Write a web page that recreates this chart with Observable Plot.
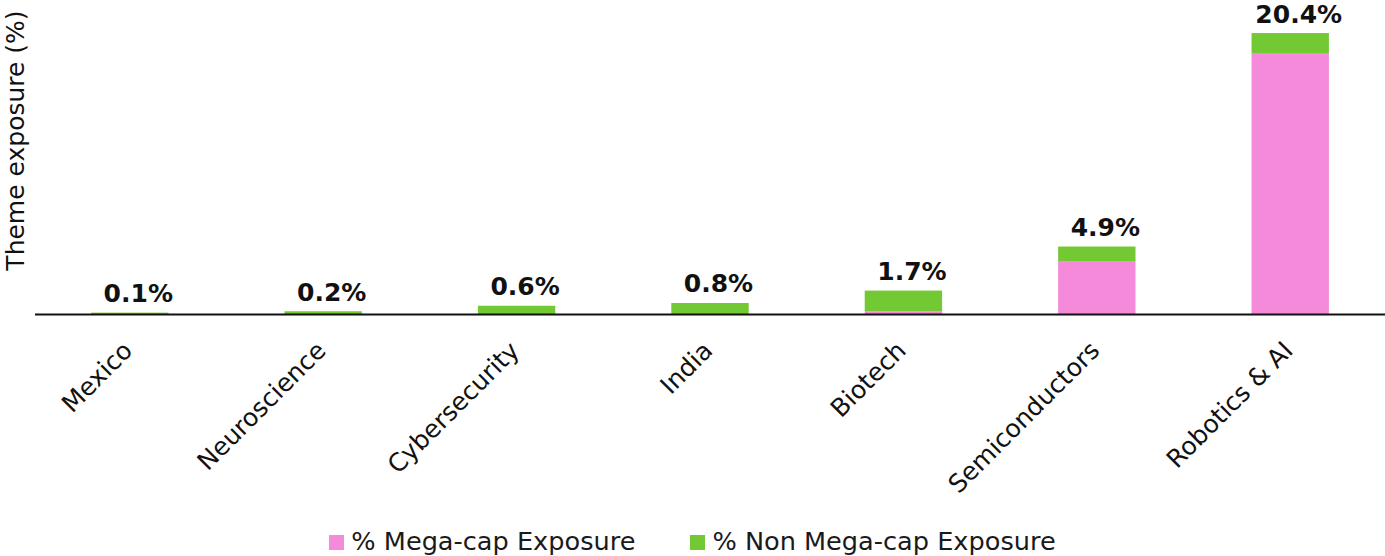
<!DOCTYPE html>
<html>
<head>
<meta charset="utf-8">
<script src="https://cdn.jsdelivr.net/npm/d3@7"></script>
<script src="https://cdn.jsdelivr.net/npm/@observablehq/plot@0.6"></script>
<style>
  body { margin: 0; background: #fff; font-family: "DejaVu Sans", sans-serif; }
  #legend { display: flex; justify-content: center; gap: 55px; font-size: 25.6px; line-height: 30px; color: #1a1a1a; margin-top: 21px; }
  #legend span.sw { display: inline-block; width: 15px; height: 15px; margin-right: 7px; vertical-align: middle; position: relative; top: -1px; }
</style>
</head>
<body>
<div id="chart"></div>
<div id="legend"></div>
<script>
const categories = ["Mexico", "Neuroscience", "Cybersecurity", "India", "Biotech", "Semiconductors", "Robotics & AI"];
const megaCap = [0.0, 0.0, 0.0, 0.0, 0.2, 3.8, 18.9];
const nonMegaCap = [0.1, 0.2, 0.6, 0.8, 1.5, 1.1, 1.5];
const totals = [0.1, 0.2, 0.6, 0.8, 1.7, 4.9, 20.4];
const seriesNames = ["% Mega-cap Exposure", "% Non Mega-cap Exposure"];
const seriesColors = ["#F58ADB", "#72C933"];

const rows = [];
categories.forEach((c, i) => {
  rows.push({cat: c, series: seriesNames[0], value: megaCap[i]});
  rows.push({cat: c, series: seriesNames[1], value: nonMegaCap[i]});
});
const totalRows = categories.map((c, i) => ({cat: c, total: totals[i]}));

const chart = Plot.plot({
  width: 1385,
  height: 505,
  marginTop: 0,
  marginLeft: 35,
  marginRight: 0,
  marginBottom: 191,
  style: {fontFamily: "'DejaVu Sans', sans-serif", fontSize: "25px", color: "#111", overflow: "visible"},
  x: {domain: categories, paddingInner: 0.6, paddingOuter: 0.29, round: false, label: null},
  y: {domain: [0, 22.8], axis: null},
  color: {domain: seriesNames, range: seriesColors},
  marks: [
    Plot.barY(rows, Plot.stackY({x: "cat", y: "value", fill: "series", order: seriesNames})),
    Plot.ruleY([0], {stroke: "#111", strokeWidth: 2}),
    Plot.text(totalRows, {x: "cat", y: "total", text: d => d.total.toFixed(1) + "%", dy: -19, dx: 8, fontWeight: "bold", fontSize: 25, fill: "#111"}),
    Plot.axisX({tickSize: 0, tickRotate: -45, tickPadding: 32, fontSize: 25, dx: -2, label: null}),
    Plot.text(["Theme exposure (%)"], {frameAnchor: "left", textAnchor: "middle", rotate: -90, dx: -20, dy: -17, fontSize: 25, fill: "#111"})
  ]
});
document.getElementById("chart").append(chart);

const legend = document.getElementById("legend");
seriesNames.forEach((n, i) => {
  const item = document.createElement("div");
  item.innerHTML = `<span class="sw" style="background:${seriesColors[i]}"></span>${n}`;
  legend.append(item);
});
</script>
</body>
</html>
